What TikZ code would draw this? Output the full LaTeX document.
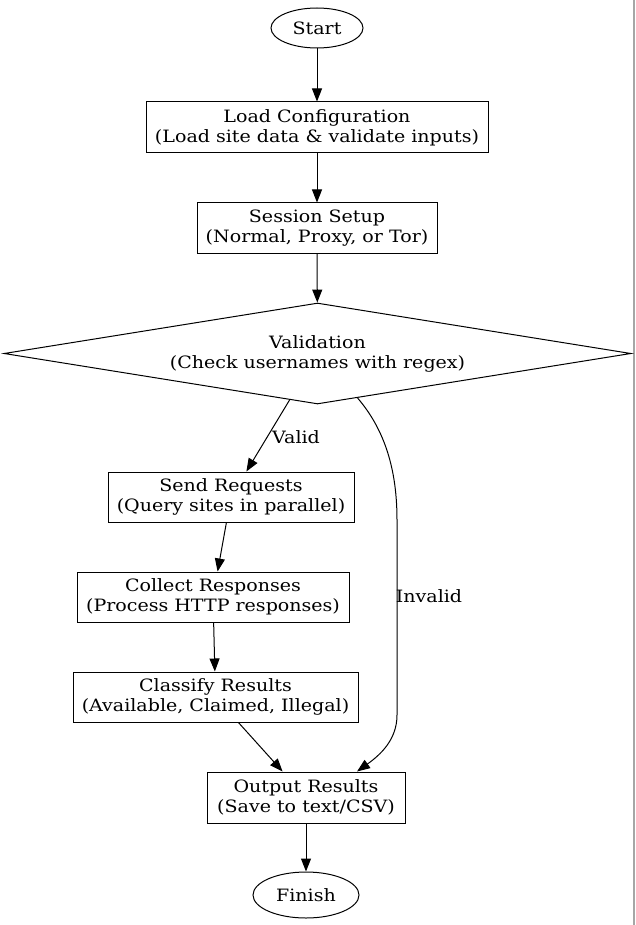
\documentclass[tikz,border=0pt]{standalone}
\usepackage{fontspec}
\setmainfont[FakeStretch=1.12]{DejaVu Serif}
\usetikzlibrary{shapes.geometric,arrows.meta}
\begin{document}
\begin{tikzpicture}[x=1pt,y=-1pt,
  every node/.style={font=\fontsize{17}{20}\selectfont, align=center, inner sep=0pt},
  box/.style={draw, line width=1pt},
  oval/.style={draw, ellipse, line width=1pt},
  edge/.style={draw, line width=1pt, -{Triangle[length=13pt,width=10pt]}},
  lbl/.style={font=\fontsize{17}{20}\selectfont}]
\useasboundingbox (0,0) rectangle (635,925);
\fill[white] (0,0) rectangle (635,925);
\draw[gray!70, line width=2pt] (633.5,0) -- (633.5,925);

\node[oval, minimum width=92pt, minimum height=40pt] (start) at (317,28) {Start};
\node[box, minimum width=342pt, minimum height=51pt] (load) at (317,127.5) {Load Configuration\\(Load site data \& validate inputs)};
\node[box, minimum width=240pt, minimum height=50pt] (sess) at (317,228) {Session Setup\\(Normal, Proxy, or Tor)};
\node[draw, line width=1pt, diamond, shape aspect=6.2, minimum width=627pt, minimum height=101pt] (dia) at (317.5,353.5) {Validation\\(Check usernames with regex)};
\node[box, minimum width=246pt, minimum height=50pt] (send) at (231,497) {Send Requests\\(Query sites in parallel)};
\node[box, minimum width=272pt, minimum height=50pt] (coll) at (213,597) {Collect Responses\\(Process HTTP responses)};
\node[box, minimum width=285pt, minimum height=50pt] (cls) at (215.5,697) {Classify Results\\(Available, Claimed, Illegal)};
\node[box, minimum width=198pt, minimum height=51pt] (out) at (306,797.5) {Output Results\\(Save to text/CSV)};
\node[oval, minimum width=106pt, minimum height=46pt] (fin) at (306,895) {Finish};

\path[edge] (start) -- (load);
\path[edge] (load) -- (sess);
\path[edge] (sess) -- (dia);
\path[edge] (dia.-121.5) -- (send);
\node[lbl] (vl) at (296,437) {Valid};
\path[edge] (send) -- (coll);
\path[edge] (coll) -- (cls);
\path[edge] (cls) -- (out);
\coordinate (inv1) at (397,520);
\coordinate (inv2) at (397,715);
\path[edge] (dia.-48) .. controls (385,430) and (397,470) .. (inv1) -- (inv2) .. controls (397,740) and (380,755) .. (out.north east -| 357,0);
\node[lbl] (il) at (429,596) {Invalid};
\path[edge] (out) -- (fin);
\end{tikzpicture}
\end{document}
